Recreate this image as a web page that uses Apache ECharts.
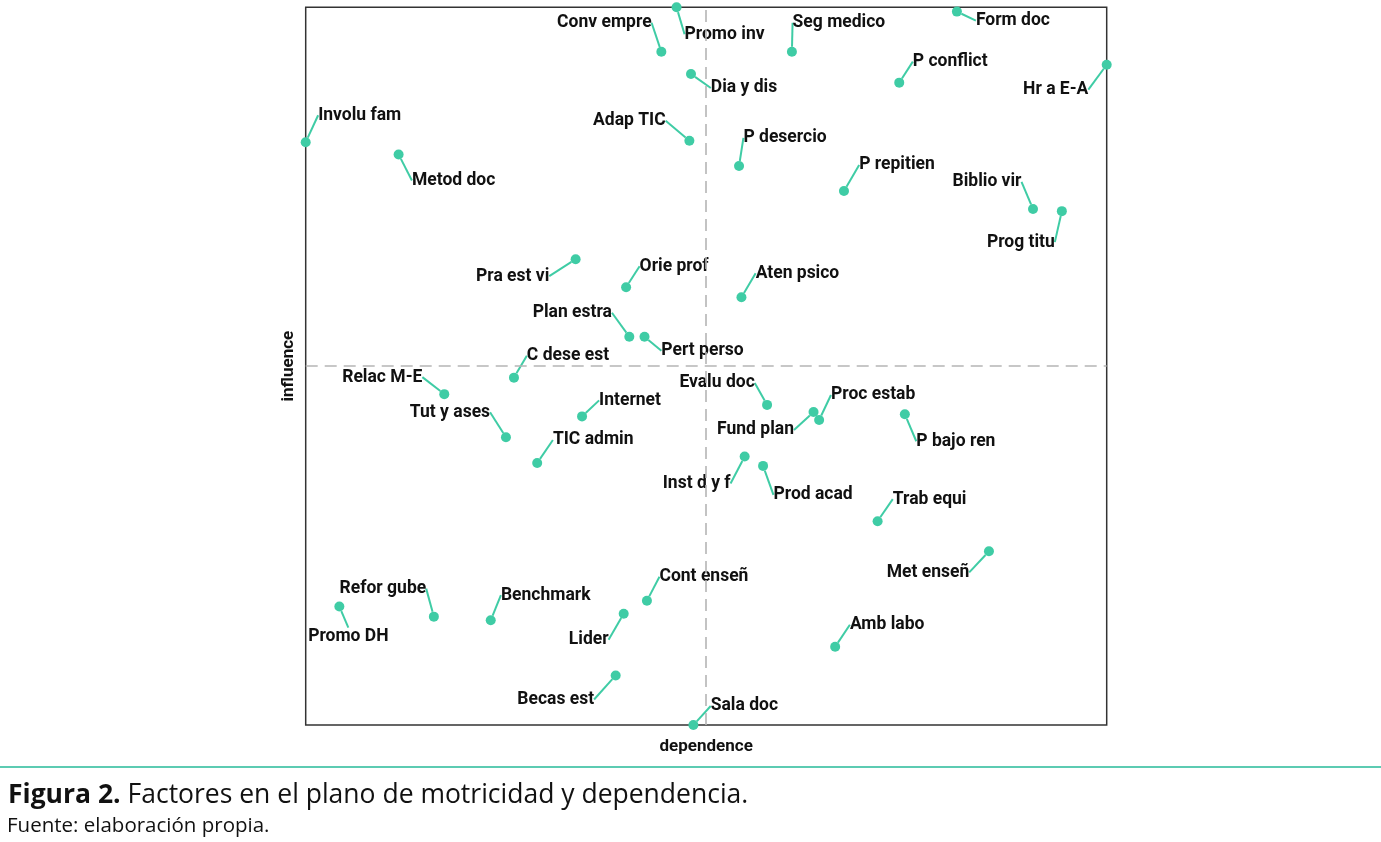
<!DOCTYPE html>
<html>
<head>
<meta charset="utf-8">
<title>Figura 2</title>
<script src="https://cdn.jsdelivr.net/npm/echarts@6/dist/echarts.min.js"></script>
<style>
  html, body { margin: 0; padding: 0; background: #fff; }
  #chart { width: 1381px; height: 842px; }
</style>
</head>
<body>
<div id="chart"></div>
<script>
// factores (etiquetas)
var factors = [
  'Promo inv', 'Conv empre', 'Dia y dis', 'Involu fam', 'Metod doc', 'Adap TIC',
  'Seg medico', 'Form doc', 'P conflict', 'Hr a E-A', 'P desercio', 'P repitien',
  'Biblio vir', 'Prog titu', 'Pra est vi', 'Orie prof', 'Aten psico', 'Plan estra',
  'Pert perso', 'C dese est', 'Relac M-E', 'Tut y ases', 'Internet', 'TIC admin',
  'Evalu doc', 'Fund plan', 'Proc estab', 'P bajo ren', 'Inst d y f', 'Prod acad',
  'Trab equi', 'Met enseñ', 'Promo DH', 'Refor gube', 'Benchmark', 'Lider',
  'Cont enseñ', 'Becas est', 'Sala doc', 'Amb labo'
];
// dependencia (eje x)
var dependence = [
  46.3, 44.4, 48.1, 0.0, 11.6, 47.9,
  60.7, 81.3, 74.1, 100.0, 54.1, 67.2,
  90.8, 94.4, 33.7, 40.0, 54.4, 40.4,
  42.3, 26.0, 17.3, 25.0, 34.5, 28.9,
  57.6, 63.4, 64.1, 74.8, 54.8, 57.1,
  71.4, 85.3, 4.2, 16.0, 23.1, 39.7,
  42.6, 38.7, 48.4, 66.1
];
// motricidad / influencia (eje y)
var influence = [
  100.0, 93.8, 90.7, 81.2, 79.5, 81.4,
  93.8, 99.4, 89.5, 92.0, 77.9, 74.4,
  71.9, 71.6, 64.9, 61.0, 59.6, 54.1,
  54.1, 48.4, 46.1, 40.1, 43.0, 36.5,
  44.6, 43.6, 42.5, 43.3, 37.4, 36.1,
  28.4, 24.2, 16.5, 15.1, 14.6, 15.5,
  17.3, 6.9, 0.0, 10.9
];
// medias (líneas de cuadrante)
var meanDependence = 50;
var meanInfluence = 50;

// desplazamiento de etiquetas (px) tipo ggrepel
var labelDx = [
  48, -57, 53, 54, 55, -60,
  47, 56, 51, -51, 46, 53,
  -46, -41, -63, 48, 56, -57,
  58, 54, -62, -56, 48, 56,
  -50, -58, 54, 51, -48, 50,
  52, -61, 9, -51, 55, -35,
  57, -60, 51, 52
];
var labelDy = [
  25, -31, 12, -29, 24, -22,
  -31, 7, -23, 23, -30, -28,
  -29, 29, 15, -23, -26, -26,
  12, -24, -19, -27, -18, -25,
  -24, 16, -27, 25, 25, 27,
  -24, 19, 28, -30, -27, 24,
  -26, 22, -21, -24
];

var teal = '#3fcca5';
var labelFont = 'Roboto, "Liberation Sans", sans-serif';
var captionFont = '"Open Sans", "Noto Sans", sans-serif';

var points = factors.map(function (name, i) {
  return { name: name, value: [dependence[i], influence[i]] };
});

var chart = echarts.init(document.getElementById('chart'));

chart.setOption({
  animation: false,
  grid: {
    left: 305.7, top: 7.3, right: 274.3, bottom: 117,
    show: true, borderColor: '#333', borderWidth: 1.5, backgroundColor: '#fff'
  },
  xAxis: {
    type: 'value', min: 0, max: 100,
    name: 'dependence', nameLocation: 'middle', nameGap: 13,
    nameTextStyle: { fontFamily: labelFont, fontWeight: 'bold', fontSize: 17, color: '#111' },
    axisLine: { show: false }, axisTick: { show: false },
    axisLabel: { show: false }, splitLine: { show: false }
  },
  yAxis: {
    type: 'value', min: 0, max: 100,
    name: 'influence', nameLocation: 'middle', nameGap: 8, nameRotate: 90,
    nameTextStyle: { fontFamily: labelFont, fontWeight: 'bold', fontSize: 17, color: '#111' },
    axisLine: { show: false }, axisTick: { show: false },
    axisLabel: { show: false }, splitLine: { show: false }
  },
  series: [{
    type: 'scatter',
    data: points,
    symbolSize: 10,
    itemStyle: { color: teal, opacity: 1 },
    label: {
      show: true,
      position: 'inside',
      formatter: '{b}',
      fontFamily: labelFont,
      fontWeight: 'bold',
      fontSize: 17.5,
      color: '#111',
      padding: [3, 5]
    },
    labelLine: {
      show: true,
      lineStyle: { color: teal, width: 2 }
    },
    labelLayout: function (params) {
      // +2: la línea base del texto queda un poco alta
      return { dx: labelDx[params.dataIndex], dy: labelDy[params.dataIndex] + 2 };
    },
    markLine: {
      silent: true,
      symbol: 'none',
      label: { show: false },
      lineStyle: { color: '#b5b5b5', type: [12, 7], width: 1.6 },
      data: [{ xAxis: meanDependence }, { yAxis: meanInfluence }]
    },
    z: 3
  }],
  graphic: [
    {
      type: 'line',
      shape: { x1: 0, y1: 767, x2: 1381, y2: 767 },
      style: { stroke: '#5ccbb2', lineWidth: 2 }
    },
    {
      type: 'text',
      left: 8, top: 782,
      style: {
        text: '{b|Figura 2.} Factores en el plano de motricidad y dependencia.',
        fontFamily: captionFont,
        fontSize: 26.5,
        fill: '#111',
        rich: { b: { fontWeight: 'bold', fontSize: 26.5, fontFamily: captionFont } }
      }
    },
    {
      type: 'text',
      left: 7, top: 816,
      style: {
        text: 'Fuente: elaboración propia.',
        fontFamily: captionFont,
        fontSize: 20.5,
        fill: '#111'
      }
    }
  ]
});
</script>
</body>
</html>
